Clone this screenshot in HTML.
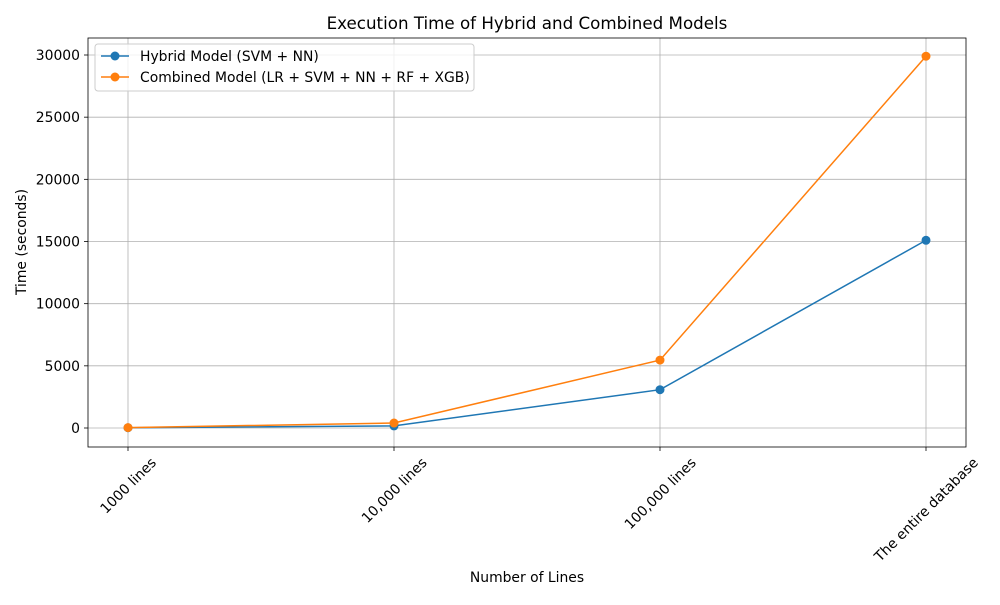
<!DOCTYPE html>
<html><head><meta charset="utf-8"><style>
body{margin:0;background:#fff;font-family:"Liberation Sans","DejaVu Sans",sans-serif;}
svg text{font-family:"DejaVu Sans","Liberation Sans",sans-serif;}
</style></head><body>
<svg id="chart" width="1000" height="600" xmlns="http://www.w3.org/2000/svg"></svg>
<script>
const categories = ["1000 lines","10,000 lines","100,000 lines","The entire database"];
const hybridValues = [20, 170, 3080, 15100];
const combinedValues = [30, 400, 5460, 29900];
const yTicks = [0,5000,10000,15000,20000,25000,30000];
const seriesNames = ["Hybrid Model (SVM + NN)","Combined Model (LR + SVM + NN + RF + XGB)"];

const svg = document.getElementById('chart');
const NS = "http://www.w3.org/2000/svg";
const L=88,R=966,T=38,B=447;
const x0=128,x1=926;
const FS=13.9;
function xs(i){return x0+(x1-x0)*i/(categories.length-1);}
function ys(v){return 428-(v/30000)*(428-55);}
function mk(tag,attrs,parent){const e=document.createElementNS(NS,tag);for(const k in attrs)e.setAttribute(k,attrs[k]);(parent||svg).appendChild(e);return e;}

yTicks.forEach(t=>{
  const g=mk('line',{x1:L,x2:R,y1:ys(t),y2:ys(t),stroke:'#b0b0b0','stroke-width':0.8});
  
  
  mk('line',{x1:L-4,x2:L,y1:ys(t),y2:ys(t),stroke:'#000','stroke-width':0.8});
  const tx=mk('text',{x:L-8,y:ys(t)+5,'text-anchor':'end','font-size':FS,fill:'#000'});
  tx.textContent=t;
  
  
});
categories.forEach((c,i)=>{
  const g=mk('line',{x1:xs(i),x2:xs(i),y1:T,y2:B,stroke:'#b0b0b0','stroke-width':0.8});
  
  
  mk('line',{x1:xs(i),x2:xs(i),y1:B,y2:B+4,stroke:'#000','stroke-width':0.8});
  const tx=mk('text',{x:0,y:0,'text-anchor':'middle','font-size':FS,fill:'#000'});
  tx.textContent=c;
  
  
  const w=tx.getComputedTextLength();
  const h=(w+FS)*0.7071/2;
  const cx=xs(i), cy=B+8+h;
  tx.setAttribute('x',cx);
  tx.setAttribute('y',cy+5);
  tx.setAttribute('transform',`rotate(-45 ${cx} ${cy})`);
});
const frame=mk('rect',{x:L,y:T,width:R-L,height:B-T,fill:'none',stroke:'#000','stroke-width':0.8});



function series(vals,color,name){
  const pl=mk('polyline',{points:vals.map((v,i)=>xs(i)+','+ys(v)).join(' '),fill:'none',stroke:color,'stroke-width':1.5});
  
  
  vals.forEach((v,i)=>{
    const c=mk('circle',{cx:xs(i),cy:ys(v),r:4.5,fill:color});
    
    
  });
}
series(hybridValues,'#1f77b4','hybrid');
series(combinedValues,'#ff7f0e','combined');

let t=mk('text',{x:527,y:29,'text-anchor':'middle','font-size':16.7,fill:'#000'});t.textContent="Execution Time of Hybrid and Combined Models";


t=mk('text',{x:527,y:582,'text-anchor':'middle','font-size':FS,fill:'#000'});t.textContent="Number of Lines";


t=mk('text',{x:26,y:242,'text-anchor':'middle','font-size':FS,fill:'#000',transform:'rotate(-90 26 242)'});t.textContent="Time (seconds)";



const lg=mk('rect',{x:95,y:44,width:379,height:47,rx:3,fill:'#fff','fill-opacity':0.8,stroke:'#ccc','stroke-width':1});


[['#1f77b4',56],['#ff7f0e',77]].forEach((d,i)=>{
  mk('line',{x1:101,x2:129,y1:d[1],y2:d[1],stroke:d[0],'stroke-width':1.5});
  mk('circle',{cx:115,cy:d[1],r:4.5,fill:d[0]});
  const tx=mk('text',{x:140,y:d[1]+5,'font-size':FS,fill:'#000'});tx.textContent=seriesNames[i];
  
  
});
</script>
</body></html>
